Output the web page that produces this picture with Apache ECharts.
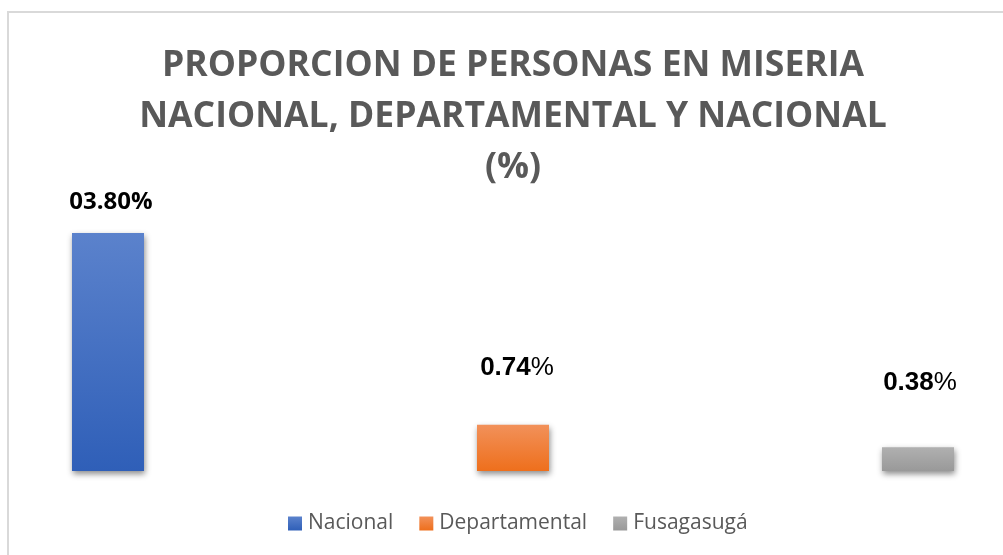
<!DOCTYPE html>
<html>
<head>
<meta charset="utf-8">
<script src="https://cdn.jsdelivr.net/npm/echarts@6/dist/echarts.min.js"></script>
<style>html,body{margin:0;padding:0;background:#fff}#c{width:1003px;height:555px}</style>
</head>
<body>
<div id="c"></div>
<script>
const categories = [''];
const seriesNames = ['Nacional', 'Departamental', 'Fusagasugá'];
const seriesValues = [3.80, 0.74, 0.38];
const labelTexts = ['03.80%', '0.74%', '0.38%'];
const titleLines = ['PROPORCION DE PERSONAS EN MISERIA', 'NACIONAL, DEPARTAMENTAL Y NACIONAL', '(%)'];

const grads = [
  ['#5b82cc', '#2f5fb8'],
  ['#f2915a', '#ee6f1c'],
  ['#b0b0b0', '#999999']
];
const labelDist = [16, 42, 49];
const labelDx = [3, 4, 2];

function grad(c) {
  return new echarts.graphic.LinearGradient(0, 0, 0, 1, [{offset: 0, color: c[0]}, {offset: 1, color: c[1]}]);
}

const series = seriesNames.map((name, i) => ({
  name: name,
  type: 'bar',
  data: [seriesValues[i]],
  barWidth: 72,
  barGap: '462.5%',
  itemStyle: {
    color: grad(grads[i]),
    shadowColor: 'rgba(0,0,0,0.45)',
    shadowBlur: 6,
    shadowOffsetX: 1,
    shadowOffsetY: 3
  },
  label: {
    show: true,
    position: 'top',
    distance: labelDist[i],
    offset: [labelDx[i], 0],
    formatter: i === 0 ? '{a|' + labelTexts[i] + '}' : '{a|' + labelTexts[i].replace('%', '') + '}{b|%}',
    lineHeight: 30,
    rich: {
      a: {fontFamily: i === 0 ? 'Open Sans' : 'Liberation Sans', fontWeight: 'bold', fontSize: i === 0 ? 24 : 26, color: '#000', lineHeight: 30},
      b: {fontFamily: 'Liberation Sans', fontWeight: 'normal', fontSize: 26, color: '#000', lineHeight: 30}
    }
  }
}));

const chart = echarts.init(document.getElementById('c'));
chart.setOption({
  animation: false,
  backgroundColor: '#fff',
  title: {
    text: titleLines.join('\n'),
    left: 508,
    textAlign: 'center',
    top: 35,
    textStyle: {fontFamily: 'Open Sans', fontWeight: 'bold', fontSize: 35.5, lineHeight: 51, color: '#595959'}
  },
  legend: {
    data: seriesNames,
    top: 508,
    left: 283,
    icon: 'rect',
    itemWidth: 14,
    itemHeight: 14,
    itemGap: 26,
    textStyle: {fontFamily: 'Open Sans', fontSize: 21, color: '#595959', padding: [0, 0, 0, 1]}
  },
  grid: {left: 30, right: 7, top: 233, bottom: 84},
  xAxis: {
    type: 'category',
    data: categories,
    axisLine: {show: false},
    axisTick: {show: false},
    axisLabel: {show: false}
  },
  yAxis: {
    type: 'value',
    min: 0,
    max: 3.8,
    show: false,
    splitLine: {show: false}
  },
  graphic: [{
    type: 'rect',
    shape: {x: 8, y: 12, width: 1100, height: 700},
    style: {fill: 'none', stroke: '#d9d9d9', lineWidth: 2},
    silent: true,
    z: 100
  }],
  series: series
});
</script>
</body>
</html>
